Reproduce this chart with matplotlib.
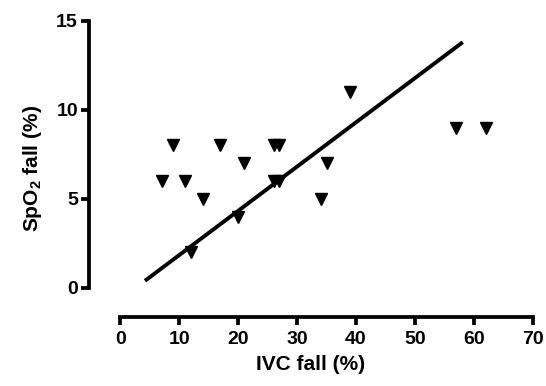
import matplotlib
matplotlib.use("Agg")
import matplotlib.pyplot as plt

# valores
ivc_fall = [7, 9, 11, 12, 14, 17, 20, 21, 26, 27, 26, 27, 34, 35, 39, 57, 62]
spo2_fall = [6, 8, 6, 2, 5, 8, 4, 7, 8, 8, 6, 6, 5, 7, 11, 9, 9]

# reta de regressão (extremos)
fit_x = [4.2, 58.1]
fit_y = [0.4, 13.8]

x_ticks = [0, 10, 20, 30, 40, 50, 60, 70]
y_ticks = [0, 5, 10, 15]

plt.rcParams["font.family"] = ["Liberation Sans", "DejaVu Sans"]
plt.rcParams["font.weight"] = "bold"
plt.rcParams["mathtext.fontset"] = "custom"
plt.rcParams["mathtext.rm"] = "Liberation Sans:bold"
plt.rcParams["mathtext.default"] = "rm"

fig = plt.figure(figsize=(5.46, 3.86), dpi=100)
ax = fig.add_axes([0.163, 0.179, 0.813, 0.767])

ax.plot(fit_x, fit_y, color="black", lw=2.8, solid_capstyle="butt", zorder=2)
ax.plot(ivc_fall, spo2_fall, linestyle="none", marker="v", color="black",
        markersize=8.5, zorder=3)

ax.set_xlim(-5.3, 70)
ax.set_ylim(-1.63, 15)

for s in ["top", "right"]:
    ax.spines[s].set_visible(False)
ax.spines["left"].set_bounds(0, 15)
ax.spines["bottom"].set_bounds(0, 70)
for s in ["left", "bottom"]:
    ax.spines[s].set_linewidth(2.7)
    ax.spines[s].set_capstyle("projecting")

ax.set_xticks(x_ticks)
ax.set_yticks(y_ticks)
ax.tick_params(width=2.7, length=6, labelsize=14, pad=2)
ax.tick_params(axis="x", pad=4)
for lab in ax.get_xticklabels() + ax.get_yticklabels():
    lab.set_fontweight("bold")

ax.set_xlabel("IVC fall (%)", fontsize=15, fontweight="bold", labelpad=5)
ax.set_ylabel("SpO$_2$ fall (%)", fontsize=15, fontweight="bold", labelpad=9)

fig.savefig("out.png", dpi=100)
